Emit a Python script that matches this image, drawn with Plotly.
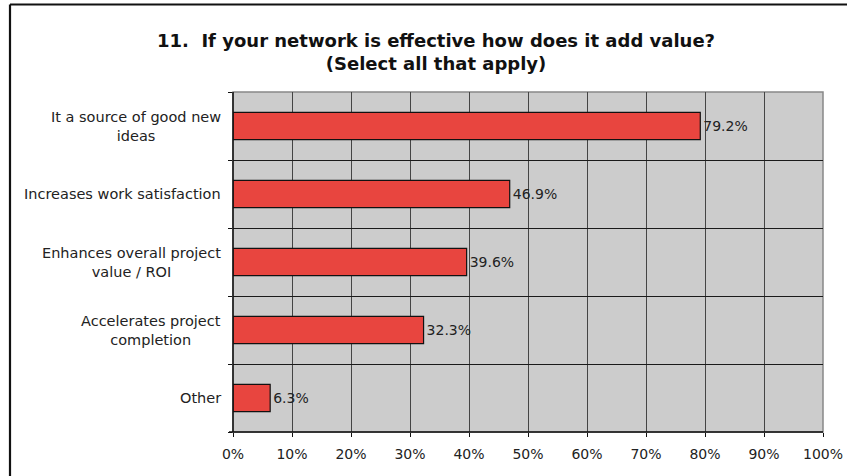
import plotly.graph_objects as go

# Survey responses (share of respondents, %)
categories = [
    "It a source of good new<br>ideas",
    "Increases work satisfaction",
    "Enhances overall project<br>value / ROI",
    "Accelerates project<br>completion",
    "Other",
]
values = [79.2, 46.9, 39.6, 32.3, 6.3]
value_labels = ["79.2%", "46.9%", "39.6%", "32.3%", "6.3%"]
x_ticks = [0, 10, 20, 30, 40, 50, 60, 70, 80, 90, 100]
x_tick_labels = [f"{t}%" for t in x_ticks]

FONT = "DejaVu Sans, Verdana, sans-serif"
W, H = 847, 476
L, R, T, B = 233, 24, 92, 44
pw, ph = W - L - R, H - T - B

pos = list(range(len(categories)))
boundaries = [p + 0.5 for p in pos[:-1]]

fig = go.Figure()
fig.add_trace(go.Bar(
    x=values,
    y=pos,
    orientation="h",
    width=0.4,
    marker=dict(color="#E8453F", line=dict(color="#111111", width=1.2)),
    text=value_labels,
    textposition="outside",
    textfont=dict(family=FONT, size=14, color="#222222"),
    cliponaxis=False,
    hoverinfo="skip",
))

# Category labels, lines centred on each other, right-aligned to the axis
for p, c in zip(pos, categories):
    fig.add_annotation(
        x=0, xref="paper", y=p, yref="y",
        text=c, showarrow=False,
        xanchor="right", xshift=-10, align="center",
        font=dict(family=FONT, size=14.5, color="#222222"),
    )

# Title
fig.add_annotation(
    x=(436 - L) / pw, xref="paper",
    y=(H - B - 52.5) / ph, yref="paper",
    text="<b>11.\u00a0 If your network is effective how does it add value?<br>(Select all that apply)</b>",
    showarrow=False, xanchor="center", yanchor="middle", align="center",
    font=dict(family=FONT, size=18, color="#111111"),
)

# Plot frame: grey on top/right, black axis lines on left/bottom
fig.add_shape(type="rect", xref="x domain", yref="y domain",
              x0=0, x1=1, y0=0, y1=1, line=dict(color="#888888", width=1.5),
              layer="below")
fig.add_shape(type="line", xref="x domain", yref="y domain",
              x0=0, x1=0, y0=0, y1=1, line=dict(color="#111111", width=1.5))
fig.add_shape(type="line", xref="x domain", yref="y domain",
              x0=-4 / pw, x1=1, y0=0, y1=0, line=dict(color="#111111", width=1.5))

# Outer chart border along the left and top edges
fig.add_shape(type="line", xref="paper", yref="paper",
              x0=(10 - L) / pw, x1=(10 - L) / pw,
              y0=-B / ph, y1=(H - B - 4.5) / ph,
              line=dict(color="#111111", width=2.2))
fig.add_shape(type="line", xref="paper", yref="paper",
              x0=(10 - L) / pw, x1=(W - L) / pw,
              y0=(H - B - 4.5) / ph, y1=(H - B - 4.5) / ph,
              line=dict(color="#111111", width=2.2))

fig.update_layout(
    width=W, height=H,
    margin=dict(l=L, r=R, t=T, b=B, autoexpand=False),
    paper_bgcolor="white",
    plot_bgcolor="#CCCCCC",
    showlegend=False,
    font=dict(family=FONT, size=14, color="#222222"),
    xaxis=dict(
        range=[0, 100],
        tickvals=x_ticks, ticktext=x_tick_labels,
        showgrid=True, gridcolor="#444444", gridwidth=1,
        showline=False,
        ticks="outside", ticklen=4, tickcolor="#111111",
        ticklabelstandoff=5,
        tickfont=dict(family=FONT, size=14, color="#222222"),
        zeroline=False, fixedrange=True, automargin=False,
    ),
    yaxis=dict(
        range=[len(categories) - 0.5, -0.5],
        tickvals=boundaries, showticklabels=False,
        showgrid=True, gridcolor="#1a1a1a", gridwidth=1,
        showline=False,
        ticks="outside", ticklen=4, tickcolor="#111111",
        minor=dict(tickvals=[-0.5, len(categories) - 0.5], ticks="outside",
                   ticklen=4, tickcolor="#111111", showgrid=False),
        zeroline=False, fixedrange=True, automargin=False,
    ),
)

fig.write_html("out.html")
